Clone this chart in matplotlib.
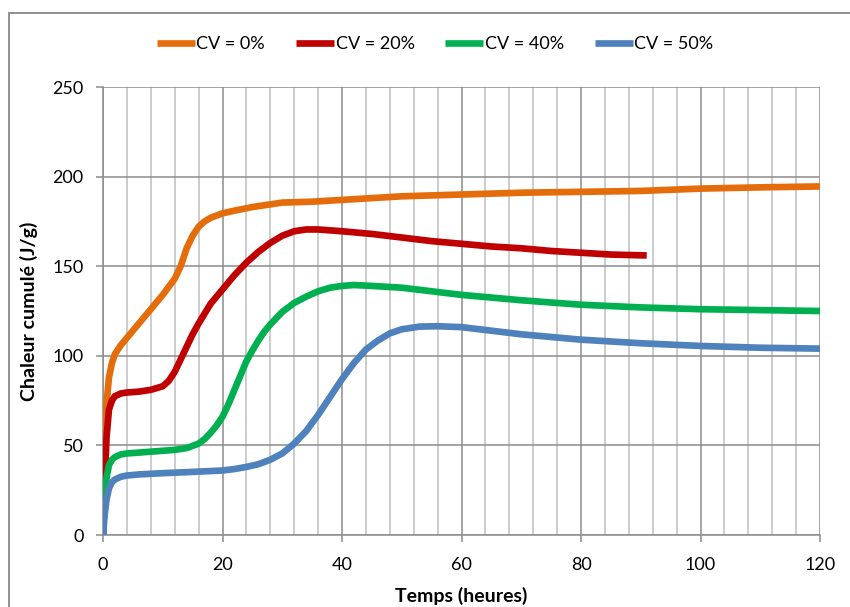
import matplotlib
matplotlib.use("Agg")
import matplotlib.pyplot as plt
from matplotlib.patches import Rectangle
from matplotlib.ticker import MultipleLocator

plt.rcParams['font.family'] = ['Lato', 'DejaVu Sans']

# data (time in hours, cumulative heat in J/g)
t_cv0 = [0, 0.2, 0.5, 1, 1.5, 2, 3, 4, 6, 8, 10, 12, 13, 14, 15, 16, 17, 18, 20, 22,
         25, 30, 35, 40, 50, 60, 70, 80, 90, 100, 110, 120]
q_cv0 = [0, 40, 70, 88, 96, 101, 106, 110, 118, 126, 134, 143, 150, 160, 167, 172, 175,
         177, 179.5, 181, 183, 185.5, 186, 187, 189, 190, 191, 191.5, 192, 193.3, 194, 194.5]

t_cv20 = [0, 0.3, 0.6, 1, 1.5, 2, 3, 4, 6, 8, 10, 11, 12, 13, 14, 15, 16, 18, 20, 22,
          24, 26, 28, 30, 32, 34, 36, 40, 45, 50, 55, 60, 65, 70, 75, 80, 85, 91]
q_cv20 = [0, 30, 55, 70, 75, 77.5, 79, 79.5, 80, 81, 83, 86, 91, 98, 105, 112, 118, 129,
          137, 145, 152, 158, 163, 167, 169.5, 170.5, 170.5, 169.5, 168, 166, 164, 162.5,
          161, 160, 158.5, 157.5, 156.5, 156]

t_cv40 = [0, 0.3, 0.6, 1, 1.5, 2, 3, 4, 6, 8, 10, 12, 14, 16, 17, 18, 19, 20, 21, 22,
          23, 24, 25, 26, 27, 28, 30, 32, 34, 36, 38, 40, 42, 45, 50, 55, 60, 70, 80, 90,
          100, 110, 120]
q_cv40 = [0, 20, 32, 39, 42, 43.5, 45, 45.5, 46, 46.5, 47, 47.5, 48.5, 51, 53.5, 57, 61,
          66, 73, 81, 89, 97, 103, 108.5, 113.5, 117.5, 124.5, 129.5, 133, 136, 138, 139,
          139.5, 139, 138, 136, 134, 131, 128.5, 127, 126, 125.5, 125]

t_cv50 = [0, 0.3, 0.6, 1, 1.5, 2, 3, 4, 6, 10, 15, 20, 22, 24, 26, 28, 30, 32, 34, 36,
          38, 40, 42, 44, 46, 48, 50, 53, 56, 60, 65, 70, 80, 90, 100, 110, 120]
q_cv50 = [0, 12, 20, 26, 29.5, 31, 32.5, 33.2, 33.8, 34.5, 35.2, 36, 36.8, 38, 39.5, 42,
          45.5, 51, 58, 67, 77, 87, 96, 103.5, 108.5, 112.5, 114.8, 116.3, 116.5, 116, 114,
          112, 109, 107, 105.5, 104.5, 104]

series = [
    ("CV = 0%", t_cv0, q_cv0, "#E46C0A"),
    ("CV = 20%", t_cv20, q_cv20, "#C00000"),
    ("CV = 40%", t_cv40, q_cv40, "#00B050"),
    ("CV = 50%", t_cv50, q_cv50, "#4F81BD"),
]

fig = plt.figure(figsize=(8.5, 6.07), dpi=100)
ax = fig.add_axes([103 / 850, 1 - 535 / 607, 717 / 850, 448 / 607])

for label, t, q, color in series:
    ax.plot(t, q, color=color, linewidth=4.8, label=label, solid_capstyle="butt", zorder=3)

ax.set_xlim(0, 120)
ax.set_ylim(0, 250)
ax.xaxis.set_major_locator(MultipleLocator(20))
ax.xaxis.set_minor_locator(MultipleLocator(4))
ax.yaxis.set_major_locator(MultipleLocator(50))

ax.grid(which="major", axis="both", color="#8c8c8c", linewidth=1.1)
ax.grid(which="minor", axis="x", color="#bfbfbf", linewidth=1.1)
ax.set_axisbelow(True)

for side in ["top", "right"]:
    ax.spines[side].set_visible(False)
for side in ["left", "bottom"]:
    ax.spines[side].set_color("#8c8c8c")
    ax.spines[side].set_linewidth(1.1)

ax.tick_params(which="major", direction="out", length=5, width=1.1, color="#8c8c8c",
               labelsize=13)
ax.tick_params(axis="x", pad=11)
ax.tick_params(axis="y", pad=9)
ax.tick_params(which="minor", length=0)

ax.set_xlabel("Temps (heures)", fontsize=14, fontweight="bold", labelpad=10)
ax.set_ylabel("Chaleur cumulé (J/g)", fontsize=14, fontweight="bold", labelpad=10)

fig.legend(loc="center", bbox_to_anchor=(0.512, 1 - 44 / 607), ncol=4, frameon=False,
           fontsize=13, handlelength=2.1, handletextpad=0.1, columnspacing=1.7)

# outer chart frame (cropped on the right and bottom)
fig.patches.append(Rectangle((9 / 850, -0.1), 1.2, 1.1 - 13 / 607, transform=fig.transFigure,
                             fill=False, edgecolor="#878787", linewidth=1.3))

fig.savefig("out.png", dpi=100)
